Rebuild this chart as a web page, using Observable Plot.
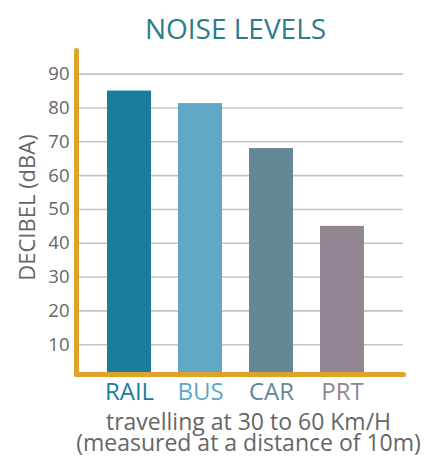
<!DOCTYPE html>
<html>
<head>
<meta charset="utf-8">
<script src="https://cdn.jsdelivr.net/npm/d3@7"></script>
<script src="https://cdn.jsdelivr.net/npm/@observablehq/plot@0.6"></script>
<style>
  html, body { margin: 0; padding: 0; background: #fff; }
  svg { display: block; }
</style>
</head>
<body>
<div id="chart"></div>
<script>
const categories = ["RAIL", "BUS", "CAR", "PRT"];
const values = [85, 81.3, 68, 45];
const barColors = ["#1b7d9e", "#60a8c5", "#628795", "#928693"];
const yTicks = [10, 20, 30, 40, 50, 60, 70, 80, 90];
const title = "NOISE LEVELS";
const yLabel = "DECIBEL (dBA)";
const subtitle = "travelling at 30 to 60 Km/H\n(measured at a distance of 10m)";

const data = categories.map((c, i) => ({cat: c, value: values[i]}));
const font = "'Open Sans', sans-serif";
const orange = "#e0a229";

const chart = Plot.plot({
  width: 426,
  height: 457,
  marginLeft: 76,
  marginRight: 23,
  marginTop: 50,
  marginBottom: 79,
  style: {fontFamily: font, background: "#fff"},
  x: {domain: categories, paddingInner: 0.374, paddingOuter: 0.487, align: 0.444, axis: null},
  y: {domain: [0, 97], axis: null},
  color: {domain: categories, range: barColors},
  marks: [
    Plot.gridY(yTicks, {stroke: "#c4c4c4", strokeOpacity: 1, strokeWidth: 1.6}),
    Plot.axisY(yTicks, {tickSize: 0, tickPadding: 7, fontSize: 18.5, fill: "#666", label: null}),
    Plot.barY(data, {x: "cat", y: "value", fill: "cat", insetBottom: 4}),
    Plot.frame({anchor: "left", stroke: orange, strokeWidth: 5, strokeLinecap: "round", insetBottom: 4}),
    Plot.frame({anchor: "bottom", stroke: orange, strokeWidth: 5, strokeLinecap: "round", insetBottom: 4}),
    Plot.text(categories, {x: d => d, fill: d => d, frameAnchor: "bottom", lineAnchor: "middle", dy: 14, fontSize: 24}),
    Plot.text([title], {frameAnchor: "top", lineAnchor: "middle", textAnchor: "middle", dx: -4.5, dy: -20, fontSize: 28, fill: "#2a7d8b"}),
    Plot.text([yLabel], {frameAnchor: "left", textAnchor: "middle", lineAnchor: "middle", dx: -49, dy: -7, rotate: -90, fontSize: 22, fill: "#666"}),
    Plot.text([subtitle], {frameAnchor: "bottom", textAnchor: "middle", dx: 8.5, dy: 36, lineAnchor: "top", lineHeight: 0.93, fontSize: 23, fill: "#666"})
  ]
});
document.getElementById("chart").appendChild(chart);
</script>
</body>
</html>
